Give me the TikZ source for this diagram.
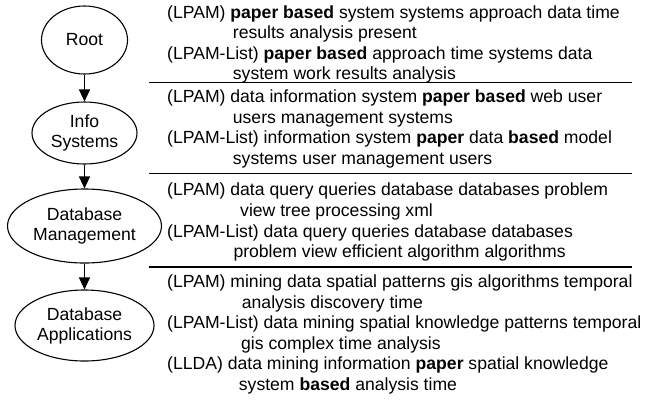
\documentclass[tikz,border=0pt]{standalone}
\usepackage{fontspec}
\setmainfont{Liberation Sans}
\usetikzlibrary{shapes.geometric,arrows.meta}

\begin{document}
\begin{tikzpicture}[x=1bp,y=-1bp,
  topic/.style={draw, ellipse, line width=1.1bp, inner sep=0pt, align=center,
    font=\fontsize{17.6bp}{20bp}\selectfont},
  words/.style={anchor=base west, inner sep=0pt,
    font=\fontsize{17.6bp}{20bp}\selectfont},
  link/.style={line width=1.1bp, -{Triangle[width=11bp,length=12bp]}},
  rule/.style={line width=1.2bp}]
\useasboundingbox (0,0) rectangle (657,399);

% topic hierarchy
\node[topic, minimum width=86bp, minimum height=68bp] (root) at (84.5,40) {Root};
\node[topic, minimum width=105bp, minimum height=62bp] (info) at (84.5,133) {Info\\Systems};
\node[topic, minimum width=154bp, minimum height=74bp] (dbm) at (84.5,226) {Database\\Management};
\node[topic, minimum width=139bp, minimum height=71bp] (dba) at (84.5,325.5) {Database\\Applications};

\draw[link] (root.south) -- (info.north);
\draw[link] (info.south) -- (dbm.north);
\draw[link] (dbm.south) -- (dba.north);

% topic words, one block per level
\node[words] (t11) at (167,18) {(LPAM) \textbf{paper based} system systems approach data time};
\node[words] (t12) at (232.7,38.5) {results analysis present};
\node[words] (t13) at (167,59.5) {(LPAM-List) \textbf{paper based} approach time systems data};
\node[words] (t14) at (232.7,79.5) {system work results analysis};
\draw[rule] (149,82.5) -- (632,82.5);

\node[words] (t21) at (167,102.5) {(LPAM) data information system \textbf{paper based} web user};
\node[words] (t22) at (232.7,123) {users management systems};
\node[words] (t23) at (167,143.5) {(LPAM-List) information system \textbf{paper} data \textbf{based} model};
\node[words] (t24) at (232.7,164) {systems user management users};
\draw[rule] (149,173.3) -- (632,173.3);

\node[words] (t31) at (167,195.5) {(LPAM) data query queries database databases problem};
\node[words] (t32) at (240,216.5) {view tree processing xml};
\node[words] (t33) at (167,237) {(LPAM-List) data query queries database databases};
\node[words] (t34) at (233.3,257.5) {problem view efficient algorithm algorithms};
\draw[rule] (149,267) -- (632,267);

\node[words] (t41) at (167,287.5) {(LPAM) mining data spatial patterns gis algorithms temporal};
\node[words] (t42) at (241.7,308) {analysis discovery time};
\node[words] (t43) at (167,328.5) {(LPAM-List) data mining spatial knowledge patterns temporal};
\node[words] (t44) at (241,349) {gis complex time analysis};
\node[words] (t45) at (167,369.5) {(LLDA) data mining information \textbf{paper} spatial knowledge};
\node[words] (t46) at (238.7,390) {system \textbf{based} analysis time};
\end{tikzpicture}
\end{document}
